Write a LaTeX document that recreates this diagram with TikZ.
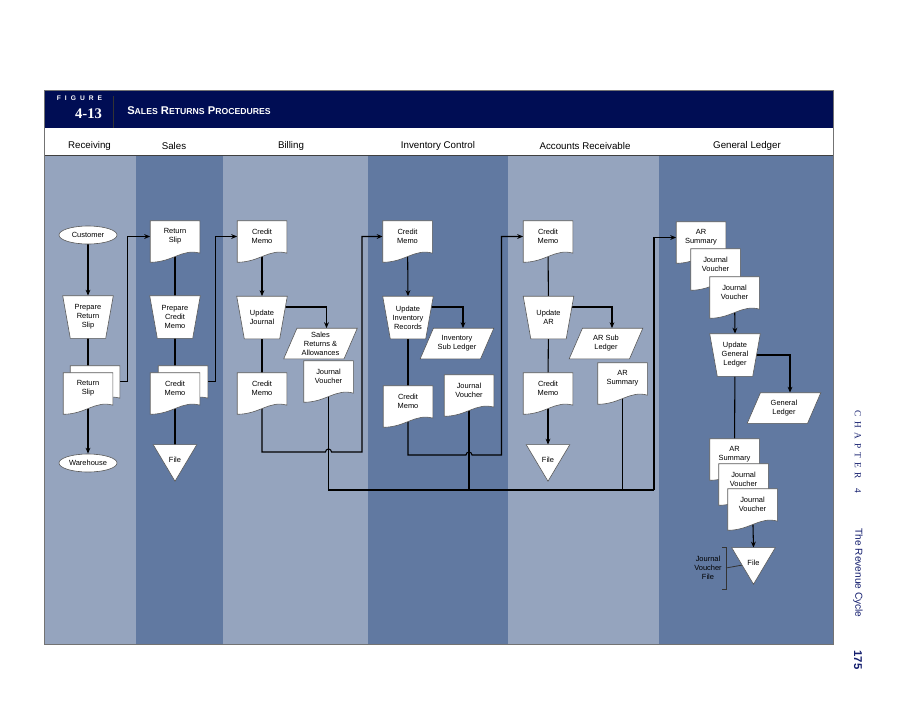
\documentclass[tikz,border=0pt]{standalone}
\usepackage{fontspec}
\setmainfont{Liberation Sans}
\newfontfamily\serifb{Liberation Serif}
\usetikzlibrary{shapes.geometric,arrows.meta,calc}
\definecolor{navy}{RGB}{0,13,84}
\definecolor{laneL}{RGB}{149,164,190}
\definecolor{laneD}{RGB}{97,121,161}
\definecolor{margtxt}{RGB}{20,30,110}
\pgfdeclarelayer{lanes}
\pgfdeclarelayer{lines}
\pgfsetlayers{lanes,lines,main}
\def\px{*0.75pt}
\makeatletter
\newdimen\dL \newdimen\dB \newdimen\dR \newdimen\dT \newdimen\dW \newdimen\dH
\newdimen\dA \newdimen\dBB \newdimen\dC \newdimen\dD
\def\getbox{\southwest \dL=\pgf@x \dB=\pgf@y \northeast \dR=\pgf@x \dT=\pgf@y
  \dW=\dR \advance\dW by -\dL \dH=\dT \advance\dH by -\dB}
\def\recthead{%
  \inheritsavedanchors[from=rectangle]%
  \inheritanchorborder[from=rectangle]%
  \inheritanchor[from=rectangle]{center}%
  \inheritanchor[from=rectangle]{north}%
  \inheritanchor[from=rectangle]{south}%
  \inheritanchor[from=rectangle]{east}%
  \inheritanchor[from=rectangle]{west}%
  \inheritanchor[from=rectangle]{north east}%
  \inheritanchor[from=rectangle]{north west}%
  \inheritanchor[from=rectangle]{south east}%
  \inheritanchor[from=rectangle]{south west}%
  \inheritanchor[from=rectangle]{mid}%
  \inheritanchor[from=rectangle]{base}}
\pgfdeclareshape{docu}{\recthead
  \backgroundpath{\getbox
    \advance\dT by -0.12\dH \advance\dB by -0.12\dH
    \dA=\dB \advance\dA by 0.22\dH
    \dBB=\dR \advance\dBB by -0.35\dW
    \dC=\dB \advance\dC by 0.34\dH
    \dD=\dL \advance\dD by 0.45\dW
    \pgfpathmoveto{\pgfqpoint{\dL}{\dB}}%
    \pgfpathlineto{\pgfqpoint{\dL}{\dT}}%
    \pgfpathlineto{\pgfqpoint{\dR}{\dT}}%
    \pgfpathlineto{\pgfqpoint{\dR}{\dA}}%
    \pgfpathcurveto{\pgfqpoint{\dBB}{\dC}}{\pgfqpoint{\dD}{\dB}}{\pgfqpoint{\dL}{\dB}}%
    \pgfpathclose}}
\pgfdeclareshape{manop}{\recthead
  \backgroundpath{\getbox
    \dA=\dL \advance\dA by 0.15\dW
    \dBB=\dR \advance\dBB by -0.15\dW
    \pgfpathmoveto{\pgfqpoint{\dL}{\dT}}%
    \pgfpathlineto{\pgfqpoint{\dR}{\dT}}%
    \pgfpathlineto{\pgfqpoint{\dBB}{\dB}}%
    \pgfpathlineto{\pgfqpoint{\dA}{\dB}}%
    \pgfpathclose}}
\pgfdeclareshape{iopar}{\recthead
  \backgroundpath{\getbox
    \dA=\dL \advance\dA by 0.18\dW
    \dBB=\dR \advance\dBB by -0.18\dW
    \pgfpathmoveto{\pgfqpoint{\dA}{\dT}}%
    \pgfpathlineto{\pgfqpoint{\dR}{\dT}}%
    \pgfpathlineto{\pgfqpoint{\dBB}{\dB}}%
    \pgfpathlineto{\pgfqpoint{\dL}{\dB}}%
    \pgfpathclose}}
\pgfdeclareshape{filetri}{\recthead
  \anchor{top}{\getbox \dA=\dL \advance\dA by 0.5\dW
    \advance\dT by -0.08\dH \pgfqpoint{\dA}{\dT}}
  \backgroundpath{\getbox
    \advance\dT by -0.08\dH \advance\dB by -0.08\dH
    \dA=\dL \advance\dA by 0.5\dW
    \pgfpathmoveto{\pgfqpoint{\dL}{\dT}}%
    \pgfpathlineto{\pgfqpoint{\dR}{\dT}}%
    \pgfpathlineto{\pgfqpoint{\dA}{\dB}}%
    \pgfpathclose}}
\makeatother
\newcommand\smc[1]{{\fontsize{6.5}{8}\selectfont #1}}
\begin{document}
\begin{tikzpicture}[x=0.75pt,y=-0.75pt,
  base/.style={font=\fontsize{5.6}{6.75}\selectfont, align=center, inner sep=0pt,
    draw=black!65, line width=0.45pt, fill=white},
  docn/.style={base, shape=docu, minimum width=49\px, minimum height=41\px},
  mopn/.style={base, shape=manop, minimum width=50\px, minimum height=42\px},
  ion/.style={base, shape=iopar, minimum width=73\px, minimum height=30\px},
  filen/.style={base, shape=filetri, minimum width=43\px, minimum height=36\px},
  termn/.style={base, ellipse, minimum width=58\px, minimum height=18\px},
  hdr/.style={font=\fontsize{7.3}{9}\selectfont, inner sep=0pt},
  marg/.style={text=margtxt, rotate=-90, inner sep=0pt},
  ln/.style={line width=0.8pt, black},
  arr/.style={ln, -{Stealth[length=4.5pt,width=3.6pt]}}]
\useasboundingbox (0,0) rectangle (900,719);
\begin{pgfonlayer}{lanes}
\fill[white] (0,0) rectangle (900,719);
\fill[laneL] (44,155) rectangle (136,644);
\fill[laneD] (136,155) rectangle (223,644);
\fill[laneL] (223,155) rectangle (368,644);
\fill[laneD] (368,155) rectangle (508,644);
\fill[laneL] (508,155) rectangle (659,644);
\fill[laneD] (659,155) rectangle (833,644);
\fill[navy] (44,90) rectangle (833,128);
\draw[black!80, line width=0.5pt] (113,96) -- (113,128);
\draw[black!75, line width=0.7pt] (44,155) -- (833,155);
\draw[black!55, line width=0.6pt] (44,90) rectangle (833,644);
\end{pgfonlayer}
% header
\node[white, font=\bfseries\fontsize{5}{6}\selectfont, inner sep=0pt] (fig) at (79.5,98.5)
  {F\hspace{3pt}I\hspace{3pt}G\hspace{3pt}U\hspace{3pt}R\hspace{3pt}E};
\node[white, font=\serifb\bfseries\fontsize{11}{12}\selectfont, inner sep=0pt] (fnum) at (88.5,114) {4-13};
\node[white, font=\bfseries\fontsize{8.4}{10}\selectfont, inner sep=0pt, anchor=west] (title) at (127,110.5)
  {S\smc{ALES} R\smc{ETURNS} P\smc{ROCEDURES}};
\node[hdr] (h1) at (89.5,146) {Receiving};
\node[hdr] (h2) at (174,146) {Sales};
\node[hdr] (h3) at (291,146) {Billing};
\node[hdr] (h4) at (438,146) {Inventory Control};
\node[hdr] (h5) at (585,146) {Accounts Receivable};
\node[hdr] (h6) at (747,146) {General Ledger};
% margin
\node[marg, font=\serifb\fontsize{7}{8}\selectfont] (m1) at (858,452)
  {C\hspace{3.2pt}H\hspace{3.2pt}A\hspace{3.2pt}P\hspace{3.2pt}T\hspace{3.2pt}E\hspace{3.2pt}R\hspace{7pt}4};
\node[marg, font=\fontsize{7.6}{9}\selectfont] (m2) at (858,573) {The Revenue Cycle};
\node[marg, font=\bfseries\fontsize{8.5}{10}\selectfont] (m3) at (858,660) {175};
% Receiving
\node[termn] (cust) at (88,235) {Customer};
\node[mopn] (prs) at (88,317) {Prepare\\Return\\Slip};
\node[docn] (rsb) at (95,381.5) {};
\node[docn] (rsf) at (88,388.5) {Return\\Slip};
\node[termn] (wh) at (88,463) {Warehouse};
% Sales
\node[docn] (srs) at (175,236.5) {Return\\Slip};
\node[mopn] (pcm) at (175,317) {Prepare\\Credit\\Memo};
\node[docn] (scmb) at (183,381.5) {};
\node[docn] (scmf) at (175,388.5) {Credit\\Memo};
\node[filen] (sfile) at (175,460) {File};
% Billing
\node[docn] (bcm1) at (262,236.5) {Credit\\Memo};
\node[mopn] (uj) at (262,317.5) {Update\\Journal};
\node[ion] (sra) at (320.5,343.5) {Sales\\Returns \&\\Allowances};
\node[docn] (bjv) at (328.5,376.5) {Journal\\Voucher};
\node[docn] (bcm2) at (262,388.5) {Credit\\Memo};
% Inventory Control
\node[docn] (icm1) at (407.5,236.5) {Credit\\Memo};
\node[mopn] (uir) at (408,317.5) {Update\\Inventory\\Records};
\node[ion] (isl) at (457,343.5) {Inventory\\Sub Ledger};
\node[docn] (ijv) at (469,390.5) {Journal\\Voucher};
\node[docn] (icm2) at (408,401.5) {Credit\\Memo};
% Accounts Receivable
\node[docn] (acm1) at (548,236.5) {Credit\\Memo};
\node[mopn] (uar) at (548.5,317.5) {Update\\AR};
\node[ion] (arsl) at (606,343.5) {AR Sub\\Ledger};
\node[docn] (arsum) at (622.5,378.5) {AR\\Summary};
\node[docn] (acm2) at (548,388.5) {Credit\\Memo};
\node[filen] (afile) at (548,460) {File};
% General Ledger
\node[docn] (gars) at (701,237.5) {AR\\Summary};
\node[docn] (gjv1) at (715.5,264.5) {Journal\\Voucher};
\node[docn] (gjv2) at (734.5,292.5) {Journal\\Voucher};
\node[mopn] (ugl) at (735,355) {Update\\General\\Ledger};
\node[ion] (gl) at (784,408) {General\\Ledger};
\node[docn] (gars2) at (734.5,454.5) {AR\\Summary};
\node[docn] (gjv3) at (743.5,479.5) {Journal\\Voucher};
\node[docn] (gjv4) at (752.5,504.5) {Journal\\Voucher};
\node[filen] (gfile) at (753.5,563) {File};
\node[font=\fontsize{5.6}{6.75}\selectfont, align=center, inner sep=0pt] (jvf) at (708,568) {Journal\\Voucher\\File};
\coordinate (brt) at (722,547);
\coordinate (brb) at (722,589);
\coordinate (brm) at (726,568);
\coordinate (bx) at (362,452);
\coordinate (ix) at (501.5,455);
\coordinate (busR) at (654,490);
\begin{pgfonlayer}{lines}
% Receiving
\draw[arr] (cust.south) -- (prs.north);
\draw[ln] (prs.center) -- (rsf.center);
\draw[arr] (rsf.center) -- (wh.north);
\draw[arr] (rsb.east) -- ++(8,0) |- (srs.west);
% Sales
\draw[ln] (srs.center) -- (pcm.center);
\draw[ln] (pcm.center) -- (scmf.center);
\draw[ln] (scmf.center) -- (sfile.top);
\draw[arr] (scmb.east) -- ++(8,0) |- (bcm1.west);
% Billing
\draw[arr] (bcm1.center) -- (uj.north);
\draw[arr] ($(uj.center)+(0,-10.5)$) -| ($(sra.north)+(6,0)$);
\draw[ln] (uj.center) -- (bcm2.center);
\draw[arr] (bcm2.center) |- ($(bjv.center |- bx)+(-3,0)$)
  arc[start angle=180, end angle=360, radius=3] -- (bx) |- (icm1.west);
\draw[ln] (bjv.center) -- (bjv.center |- busR) -- (busR);
% Inventory
\draw[arr] (icm1.center) -- (uir.north);
\draw[arr] ($(uir.center)+(0,-10.5)$) -| ($(isl.north)+(6,0)$);
\draw[ln] (uir.center) -- (icm2.center);
\draw[arr] (icm2.center) |- ($(ijv.center |- ix)+(-3,0)$)
  arc[start angle=180, end angle=360, radius=3] -- (ix) |- (acm1.west);
\draw[ln] (ijv.center) -- (ijv.center |- busR);
% AR
\draw[ln] (acm1.center) -- (uar.center);
\draw[arr] ($(uar.center)+(0,-10.5)$) -| ($(arsl.north)+(6,0)$);
\draw[ln] (uar.center) -- (acm2.center);
\draw[arr] (acm2.center) -- (afile.top);
\draw[ln] (arsum.center) -- (arsum.center |- busR);
\draw[arr] (busR) |- (gars.west);
% GL
\draw[arr] (gjv2.center) -- (ugl.north);
\draw[arr] (ugl.center) -| ($(gl.north)+(6,0)$);
\draw[ln] (ugl.center) -- (gars2.center);
\draw[arr] (gjv4.center) -- (gfile.top);
\draw[line width=0.6pt, black!80] (brt) -- (brt -| brm) -- (brb -| brm) -- (brb);
\draw[line width=0.6pt, black!80] (brm) -- (gfile.center);
\end{pgfonlayer}
\end{tikzpicture}
\end{document}
